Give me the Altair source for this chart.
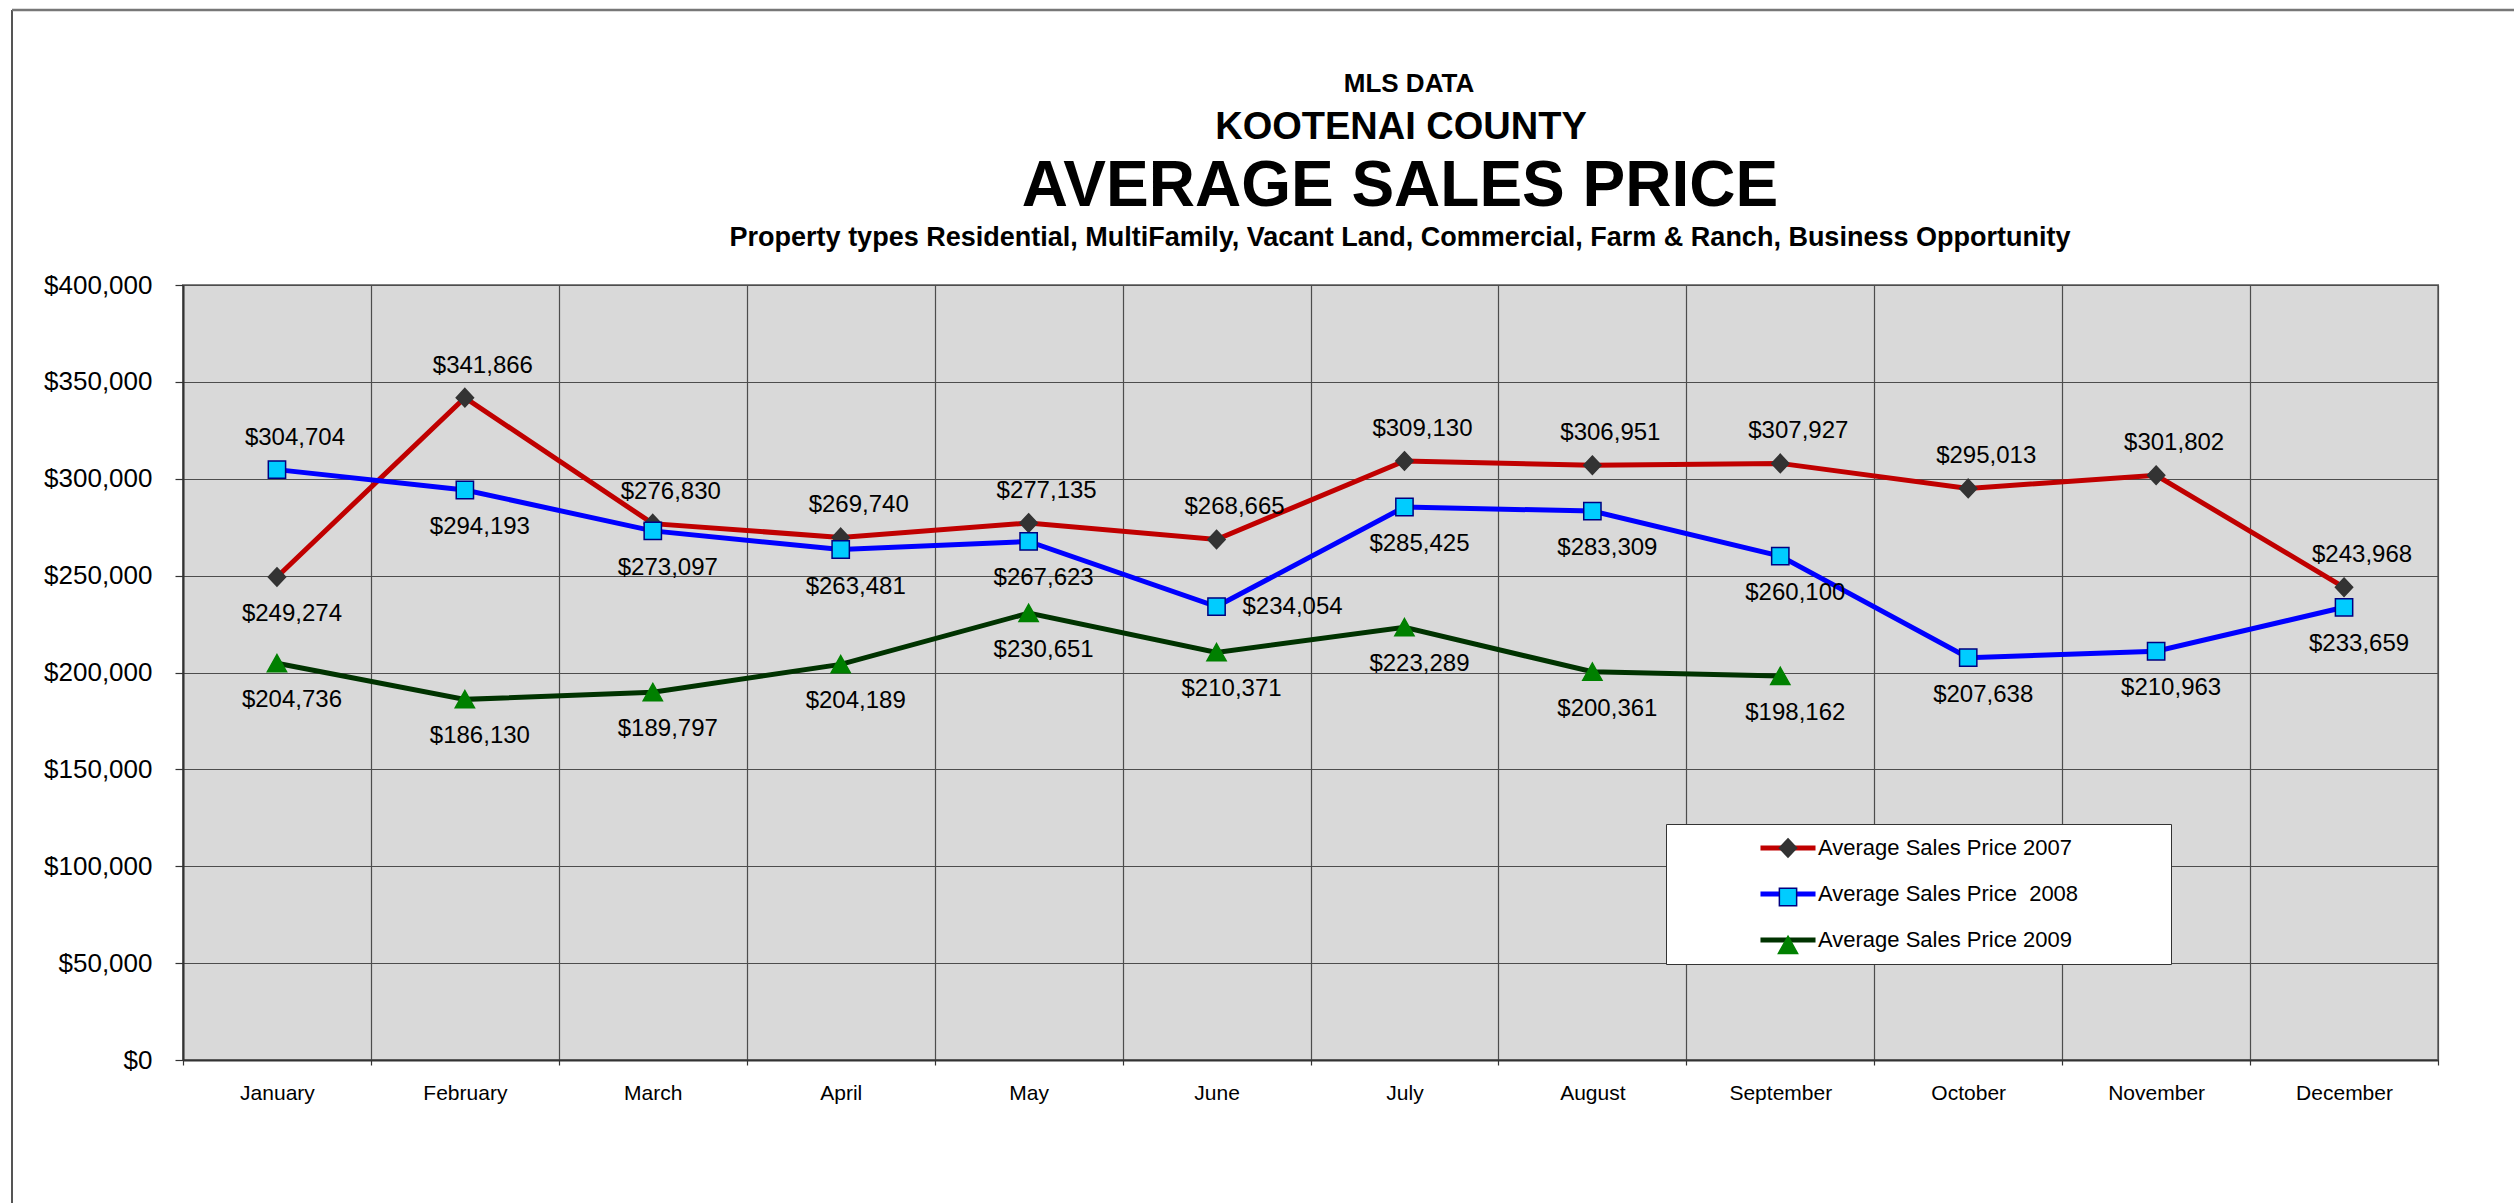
import altair as alt
import pandas as pd

# ---------------- data ----------------
months = ["January", "February", "March", "April", "May", "June", "July",
          "August", "September", "October", "November", "December"]
series_names = ["Average Sales Price 2007", "Average Sales Price\u00a0 2008",
                "Average Sales Price 2009"]
marker_keys = ["2007", "2008", "2009"]
avg_2007 = [249274, 341866, 276830, 269740, 277135, 268665, 309130,
            306951, 307927, 295013, 301802, 243968]
avg_2008 = [304704, 294193, 273097, 263481, 267623, 234054, 285425,
            283309, 260100, 207638, 210963, 233659]
avg_2009 = [204736, 186130, 189797, 204189, 230651, 210371, 223289,
            200361, 198162]
# where each value label sits relative to its point
pos_2007 = ["below"] + ["above"] * 11
pos_2008 = ["above", "below", "below", "below", "below", "right",
            "below", "below", "below", "below", "below", "below"]
pos_2009 = ["below"] * 9
y_ticks = [0, 50000, 100000, 150000, 200000, 250000, 300000, 350000, 400000]

header_1 = ["MLS DATA"]
header_2 = ["KOOTENAI COUNTY"]
title_main = ["AVERAGE SALES PRICE"]
title_sub = ["Property types Residential, MultiFamily, Vacant Land, Commercial, "
             "Farm & Ranch, Business Opportunity"]

# ---------------- styles ----------------
line_colors = ["#C00000", "#0000FF", "#003300"]
marker_fills = ["#333333", "#00CCFF", "#008000"]
marker_strokes = ["#333333", "#000080", "#008000"]
marker_paths = ["M0,-1.15L1.08,0L0,1.15L-1.08,0Z",
                "M-1.08,-1.08H1.08V1.08H-1.08Z",
                "M0,-1.1L1.2,1.05L-1.2,1.05Z"]
FONT = "Liberation Sans"

rows = []
for name, key, vals, poss in zip(series_names, marker_keys,
                                 [avg_2007, avg_2008, avg_2009],
                                 [pos_2007, pos_2008, pos_2009]):
    for m, v, p in zip(months, vals, poss):
        rows.append({"month": m, "series": name, "marker": key,
                     "value": v, "pos": p})
df = pd.DataFrame(rows)

PW, PH = 2255, 775
PAD = {"left": 183, "top": 285, "right": 76, "bottom": 143}

x_enc = alt.X("month:N", sort=months,
              scale=alt.Scale(type="band", paddingInner=0, paddingOuter=0),
              axis=alt.Axis(title=None, labelAngle=0, tickBand="extent", grid=True,
                            labelFontSize=21, labelPadding=17, tickSize=5))
y_enc = alt.Y("value:Q", scale=alt.Scale(domain=[0, 400000], nice=False),
              axis=alt.Axis(title=None, values=y_ticks, format="$,.0f", grid=True,
                            labelFontSize=26, labelPadding=23, tickSize=8))

# invisible trailing filler widens the legend box on the right
FILL = "\u00a0" * 13 + "\u200b"
common_leg = dict(orient="none", legendX=1483, legendY=539, title=".",
                  titleOrient="left", titleOpacity=0, titleFontSize=1,
                  titlePadding=97, padding=13, rowPadding=24, symbolSize=256,
                  labelFontSize=22, labelFont=FONT, labelColor="black",
                  labelOffset=19, labelLimit=1000,
                  labelExpr="datum.label + '" + FILL + "'")

line_legend = alt.Legend(symbolType="M-3.44,0H3.44", symbolStrokeWidth=5,
                         fillColor="white", strokeColor="#333333", zindex=1,
                         **common_leg)
marker_legend = alt.Legend(labelOpacity=0, symbolStrokeWidth=1.5, zindex=2,
                           **common_leg)

base = alt.Chart(df)

lines = base.mark_line(strokeWidth=5).encode(
    x=x_enc, y=y_enc,
    color=alt.Color("series:N", sort=series_names,
                    scale=alt.Scale(domain=series_names, range=line_colors),
                    legend=line_legend),
)

points = base.mark_point(filled=True, opacity=1, size=256, strokeWidth=1.5).encode(
    x=x_enc, y=y_enc,
    shape=alt.Shape("marker:N", sort=marker_keys,
                    scale=alt.Scale(domain=marker_keys, range=marker_paths),
                    legend=marker_legend),
    fill=alt.Fill("marker:N", sort=marker_keys,
                  scale=alt.Scale(domain=marker_keys, range=marker_fills),
                  legend=marker_legend),
    stroke=alt.Stroke("marker:N", sort=marker_keys,
                      scale=alt.Scale(domain=marker_keys, range=marker_strokes),
                      legend=marker_legend),
)

def labels(pos, dx, dy):
    return base.mark_text(font=FONT, fontSize=24, color="black", align="center",
                          baseline="middle", dx=dx, dy=dy).encode(
        x=x_enc, y=y_enc, text=alt.Text("value:Q", format="$,.0f")
    ).transform_filter(alt.datum.pos == pos)

lab_above = labels("above", 18, -32)
lab_below = labels("below", 15, 37)
lab_right = labels("right", 76, 0)

one = pd.DataFrame({"k": [0]})
frame_left = alt.Chart(one).mark_rule(color="#555555", strokeWidth=2).encode(
    x=alt.value(-171), y=alt.value(-275), y2=alt.value(PH + PAD["bottom"]))
frame_top = alt.Chart(one).mark_rule(color="#777777", strokeWidth=2.5).encode(
    y=alt.value(-275), x=alt.value(-171), x2=alt.value(PW + PAD["right"]))

def header(texts, size, xv, yv):
    return alt.Chart(pd.DataFrame({"t": texts})).mark_text(
        font=FONT, fontSize=size, fontWeight="bold", color="black",
        align="center", baseline="middle").encode(
        x=alt.value(xv), y=alt.value(yv), text="t:N")

h1 = header(header_1, 26, 1226, -201.5)
h2 = header(header_2, 38, 1218, -157)
h3 = header(title_main, 64, 1217, -98)
h4 = header(title_sub, 27, 1217, -47)

chart = alt.layer(
    frame_left, frame_top, h1, h2, h3, h4, lines, points,
    lab_above, lab_below, lab_right
).properties(
    width=PW, height=PH,
    padding=PAD,
    autosize=alt.AutoSizeParams(type="none"),
    background="white",
).configure_view(
    fill="#D9D9D9", stroke="#808080", strokeWidth=2
).configure_axis(
    labelFont=FONT, labelColor="black", gridColor="#4d4d4d", gridWidth=1.2,
    domainColor="#333333", domainWidth=2, tickColor="#333333", tickWidth=1.2,
    zindex=0
)

chart.save("out.html", embed_options={"renderer": "svg", "actions": False})
